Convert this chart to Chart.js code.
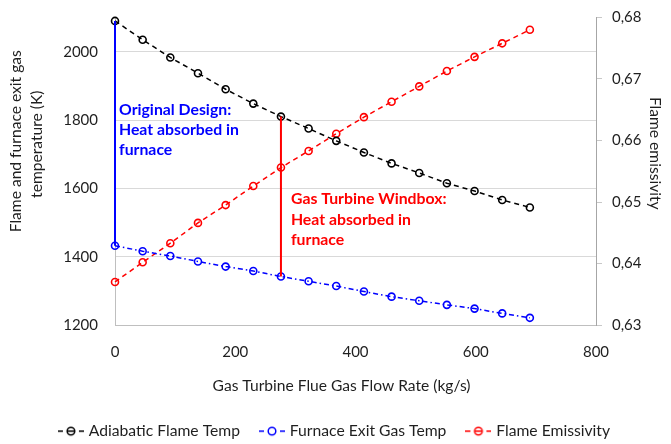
<!DOCTYPE html>
<html>
<head>
<meta charset="utf-8">
<script src="https://cdn.jsdelivr.net/npm/chart.js@4/dist/chart.umd.min.js"></script>
<style>
  html, body { margin: 0; padding: 0; background: #ffffff; }
  #chart { display: block; }
</style>
</head>
<body>
<canvas id="chart" width="671" height="444"></canvas>
<script>
// Gas turbine flue gas flow rate (kg/s)
const flowRate = [0, 46, 92, 138, 184, 230, 276, 322, 368, 414, 460, 506, 552, 598, 644, 690];
// Adiabatic flame temperature (K)
const adiabaticFlameTemp = [2090, 2035, 1983, 1937, 1890, 1848, 1810, 1775, 1739, 1705, 1673, 1645, 1615, 1592, 1566, 1544];
// Furnace exit gas temperature (K)
const furnaceExitGasTemp = [1432, 1416, 1402, 1386, 1371, 1358, 1342, 1328, 1314, 1298, 1283, 1271, 1259, 1248, 1234, 1221];
// Flame emissivity (-)
const flameEmissivity = [0.6370, 0.6402, 0.6433, 0.6466, 0.6495, 0.6526, 0.6556, 0.6583, 0.6611, 0.6638, 0.6663, 0.6688, 0.6713, 0.6736, 0.6758, 0.6780];

// Axis ticks
const flowTicks = [0, 200, 400, 600, 800];
const tempTicks = [1200, 1400, 1600, 1800, 2000];
const emissivityTicks = [0.63, 0.64, 0.65, 0.66, 0.67, 0.68];

// Cases whose furnace heat absorption is marked (index into flowRate)
const originalDesignCase = 0;
const windboxCase = 6;

const FONT = 'Lato, "Open Sans", "DejaVu Sans", sans-serif';
const TEXT = '#1f1f1f';

const pts = (xs, ys) => xs.map((x, i) => ({ x, y: ys[i] }));
const heatSpan = (i) => [
  { x: flowRate[i], y: adiabaticFlameTemp[i] },
  { x: flowRate[i], y: furnaceExitGasTemp[i] }
];

// Legend swatch: short line pieces either side of a hollow marker
function swatch(color, bar) {
  const c = document.createElement('canvas');
  c.width = 26; c.height = 12;
  const g = c.getContext('2d');
  g.strokeStyle = color;
  g.lineWidth = 1.5;
  g.beginPath();
  g.moveTo(0, 6); g.lineTo(5, 6);
  g.moveTo(21, 6); g.lineTo(26, 6);
  if (bar) { g.moveTo(10, 6); g.lineTo(16, 6); }
  g.stroke();
  g.beginPath();
  g.arc(13, 6, 3.8, 0, Math.PI * 2);
  g.stroke();
  return c;
}

const notes = [
  { lines: ['Original Design:', 'Heat absorbed in', 'furnace'], color: '#0000ff', at: originalDesignCase, value: 1830, dx: 4 },
  { lines: ['Gas Turbine Windbox:', 'Heat absorbed in', 'furnace'], color: '#ff0000', at: windboxCase, value: 1568, dx: 10 }
];

const notesPlugin = {
  id: 'notes',
  afterDraw(chart) {
    const { ctx, scales: { x, y } } = chart;
    ctx.save();
    ctx.font = 'bold 15.8px ' + FONT;
    ctx.textAlign = 'left';
    ctx.textBaseline = 'middle';
    notes.forEach(n => {
      ctx.fillStyle = n.color;
      const px = x.getPixelForValue(flowRate[n.at]) + n.dx;
      const py = y.getPixelForValue(n.value);
      n.lines.forEach((t, i) => ctx.fillText(t, px, py + i * 20.3));
    });

    // axis titles
    ctx.fillStyle = TEXT;
    ctx.font = '15.6px ' + FONT;
    ctx.textAlign = 'center';
    const area = chart.chartArea;
    const midX = (area.left + area.right) / 2;
    const midY = (area.top + area.bottom) / 2;
    ctx.fillText('Gas Turbine Flue Gas Flow Rate (kg/s)', midX - 14, 386);

    ctx.save();
    ctx.translate(16, midY - 30);
    ctx.rotate(-Math.PI / 2);
    ctx.fillText('Flame and furnace exit gas', 0, 0);
    ctx.restore();
    ctx.save();
    ctx.translate(37, midY - 27);
    ctx.rotate(-Math.PI / 2);
    ctx.fillText('temperature (K)', 0, 0);
    ctx.restore();

    ctx.save();
    ctx.translate(655, midY - 18);
    ctx.rotate(Math.PI / 2);
    ctx.fillText('Flame emissivity', 0, 0);
    ctx.restore();
    ctx.restore();
  }
};

const seriesCommon = {
  type: 'line',
  borderWidth: 1.5,
  pointRadius: 3.5,
  pointBorderWidth: 1.6,
  pointBackgroundColor: 'rgba(0,0,0,0)',
  fill: false,
  tension: 0,
  clip: false
};

new Chart(document.getElementById('chart'), {
  type: 'line',
  data: {
    datasets: [
      {
        label: 'Original Design heat absorbed',
        data: heatSpan(originalDesignCase),
        borderColor: '#0000ff', borderWidth: 2, pointRadius: 0, yAxisID: 'y', clip: false, hideInLegend: true
      },
      {
        label: 'Gas Turbine Windbox heat absorbed',
        data: heatSpan(windboxCase),
        borderColor: '#ff0000', borderWidth: 2, pointRadius: 0, yAxisID: 'y', clip: false, hideInLegend: true
      },
      Object.assign({}, seriesCommon, {
        label: 'Adiabatic Flame Temp',
        data: pts(flowRate, adiabaticFlameTemp),
        borderColor: '#000000', pointBorderColor: '#000000',
        borderDash: [5, 4], yAxisID: 'y', swatchBar: true
      }),
      Object.assign({}, seriesCommon, {
        label: 'Furnace Exit Gas Temp',
        data: pts(flowRate, furnaceExitGasTemp),
        borderColor: '#0000ff', pointBorderColor: '#0000ff',
        borderDash: [5, 3, 1.5, 3], yAxisID: 'y', swatchBar: false
      }),
      Object.assign({}, seriesCommon, {
        label: 'Flame Emissivity',
        data: pts(flowRate, flameEmissivity),
        borderColor: '#ff0000', pointBorderColor: '#ff0000',
        borderDash: [5, 4], yAxisID: 'y1', swatchBar: true
      })
    ]
  },
  options: {
    responsive: false,
    animation: false,
    devicePixelRatio: 1,
    layout: { padding: { top: 17, left: 0, right: 0, bottom: -5 } },
    plugins: {
      tooltip: { enabled: false },
      legend: {
        position: 'bottom',
        labels: {
          usePointStyle: true,
          pointStyleWidth: 20,
          padding: 22,
          color: TEXT,
          font: { family: FONT, size: 15.7 },
          generateLabels(chart) {
            return chart.data.datasets
              .map((ds, i) => ({ ds, i }))
              .filter(o => !o.ds.hideInLegend)
              .map(({ ds, i }) => ({
                text: ds.label,
                datasetIndex: i,
                fillStyle: 'rgba(0,0,0,0)',
                strokeStyle: ds.borderColor,
                fontColor: TEXT,
                lineWidth: 0,
                pointStyle: swatch(ds.borderColor, ds.swatchBar),
                hidden: false
              }));
          }
        }
      }
    },
    scales: {
      x: {
        type: 'linear',
        min: 0, max: 800,
        afterBuildTicks: s => { s.ticks = flowTicks.map(v => ({ value: v })); },
        afterFit: s => { s.height = 76.3; },
        grid: { display: true, color: 'rgba(0,0,0,0)', drawTicks: false },
        border: { display: true, color: '#bfbfbf', width: 1 },
        ticks: { color: TEXT, font: { family: FONT, size: 15 }, padding: 18, maxRotation: 0, callback: v => String(v) }
      },
      y: {
        type: 'linear',
        position: 'left',
        min: 1200, max: 2100,
        afterBuildTicks: s => { s.ticks = tempTicks.map(v => ({ value: v })); },
        afterFit: s => { s.width = 115; },
        grid: { color: '#d9d9d9', drawTicks: true, tickLength: 17, tickColor: 'rgba(0,0,0,0)', lineWidth: 1 },
        border: { display: true, color: '#bfbfbf', width: 1 },
        ticks: { color: TEXT, font: { family: FONT, size: 15, lineHeight: 1 }, padding: 0, callback: v => String(v) }
      },
      y1: {
        type: 'linear',
        position: 'right',
        min: 0.63, max: 0.68,
        afterBuildTicks: s => { s.ticks = emissivityTicks.map(v => ({ value: v })); },
        afterFit: s => { s.width = 75; },
        grid: { drawOnChartArea: false, drawTicks: true, tickLength: 6, color: '#c8c8c8' },
        border: { display: true, color: '#a6a6a6', width: 1 },
        ticks: {
          color: TEXT, font: { family: FONT, size: 15, lineHeight: 1 }, padding: 10,
          callback: v => v.toFixed(2).replace('.', ',')
        }
      }
    }
  },
  plugins: [notesPlugin]
});
</script>
</body>
</html>
